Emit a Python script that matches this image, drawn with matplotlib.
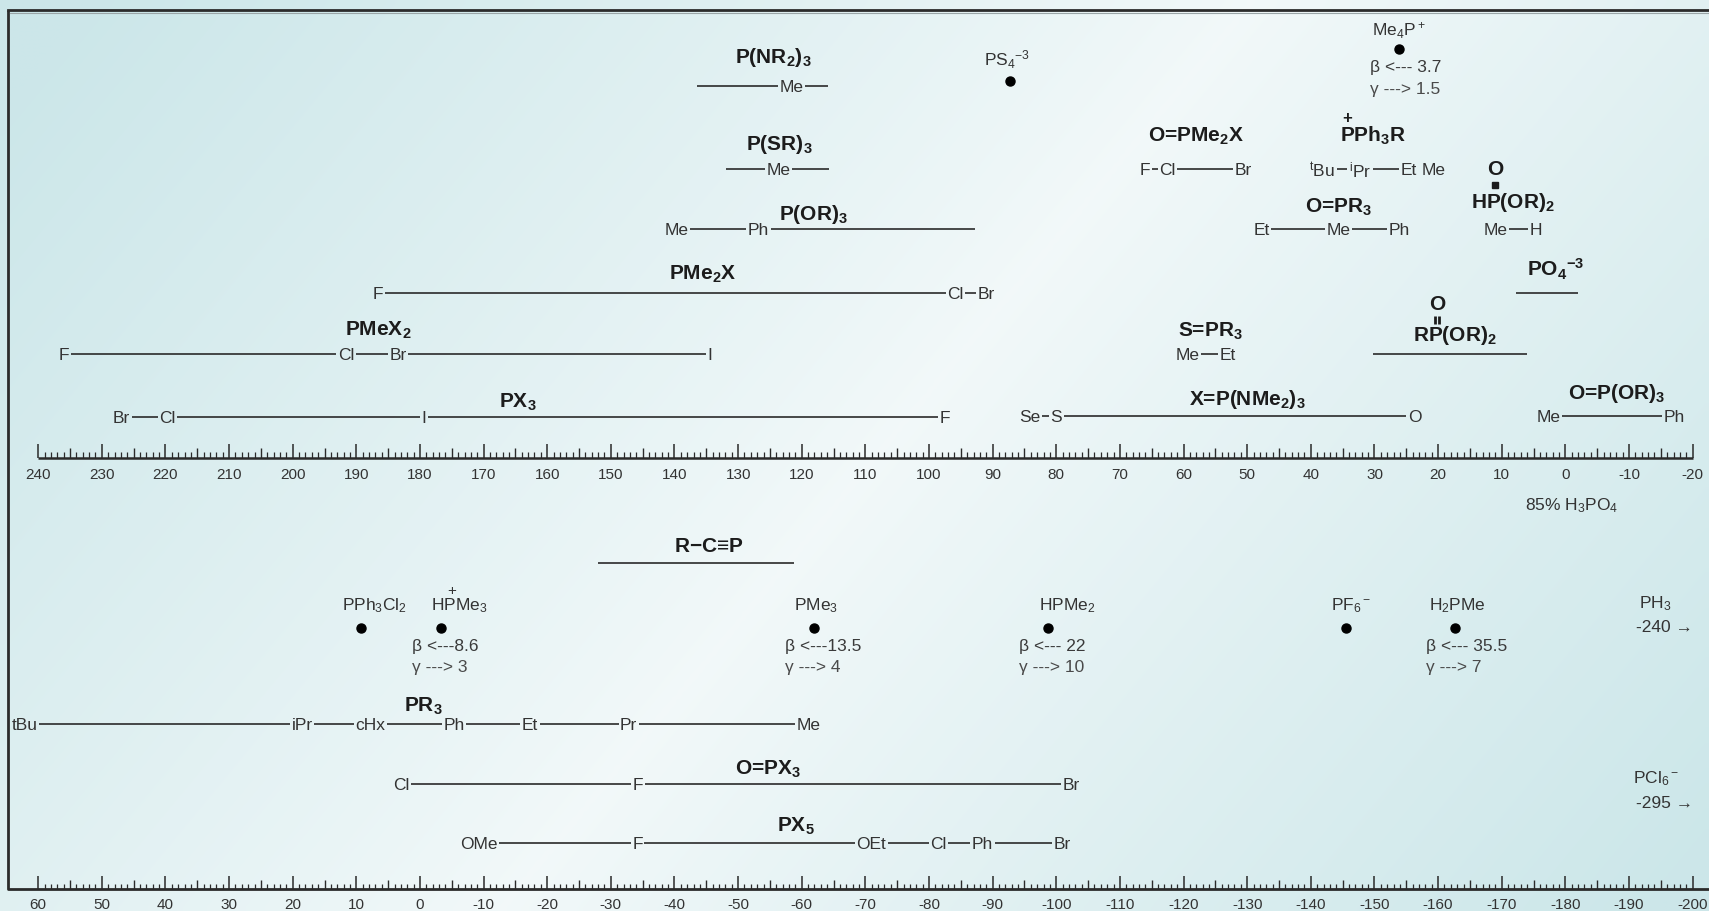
import numpy as np
import matplotlib
matplotlib.use("Agg")
import matplotlib.pyplot as plt
from matplotlib import font_manager

plt.rcParams['font.family'] = ['Liberation Sans', 'DejaVu Sans']
plt.rcParams['mathtext.fontset'] = 'custom'
plt.rcParams['mathtext.rm'] = 'Liberation Sans'
plt.rcParams['mathtext.it'] = 'Liberation Sans:italic'
plt.rcParams['mathtext.bf'] = 'Liberation Sans:bold'
plt.rcParams['mathtext.default'] = 'regular'

# ---------------- data (31P shifts, ppm) ----------------
# upper scale 240 .. -20
P_NR2_3 = [("", 136.5), ("Me", 121.6), ("", 115.9)]
P_SR_3 = [("", 131.9), ("Me", 123.6), ("", 115.7)]
P_OR_3 = [("Me", 139.7), ("Ph", 126.8), ("", 92.8)]
PMe2X = [("F", 186.6), ("Cl", 95.8), ("Br", 91.0)]
PMeX2 = [("F", 235.9), ("Cl", 191.6), ("Br", 183.4), ("I", 134.4)]
PX3 = [("Br", 226.9), ("Cl", 219.7), ("I", 179.4), ("F", 97.5)]
X_P_NMe2_3 = [("Se", 84.2), ("S", 80.0), ("O", 23.7)]
S_PR3 = [("Me", 59.4), ("Et", 53.0)]
O_PMe2X = [("F", 66.1), ("Cl", 62.5), ("Br", 50.7)]
PPh3R = [("$^t$Bu", 38.2), ("$^i$Pr", 32.3), ("Et", 24.6), None, ("Me", 20.7)]
O_PR3 = [("Et", 47.7), ("Me", 35.7), ("Ph", 26.1)]
HPO_OR_2 = [("Me", 11.0), ("H", 4.7)]
PO4 = [("", 7.7), ("", -1.95)]
RPO_OR_2 = [("", 30.3), ("", 6.0)]
O_P_OR_3 = [("Me", 2.6), ("Ph", -17.1)]

top_points = ["Me$_4$P$^+$", "PS$_4$$^{-3}$"]
top_point_shift = [26.1, 87.2]
top_beta = {"Me$_4$P$^+$": (" 3.7", " 1.5")}

# lower scale 60 .. -200
RCP = [("", -28.0), ("", -58.8)]
PR3 = [("tBu", 62.1), ("iPr", 18.5), ("cHx", 7.8), ("Ph", -5.4),
       ("Et", -17.3), ("Pr", -32.8), ("Me", -61.0)]
O_PX3 = [("Cl", 2.9), ("F", -34.3), ("Br", -102.3)]
PX5 = [("OMe", -9.2), ("F", -34.2), ("OEt", -70.95), ("Cl", -81.5),
       ("Ph", -88.4), ("Br", -100.9)]

low_points = ["PPh$_3$Cl$_2$", "HPMe$_3$", "PMe$_3$", "HPMe$_2$", "PF$_6$$^-$", "H$_2$PMe"]
low_point_shift = [9.2, -3.3, -61.9, -98.75, -145.5, -162.7]
low_beta = {"HPMe$_3$": ("8.6", " 3"), "PMe$_3$": ("13.5", " 4"),
            "HPMe$_2$": (" 22", " 10"), "H$_2$PMe": (" 35.5", " 7")}

offscale = [("PH$_3$", -240), ("PCl$_6$$^-$", -295)]

# ---------------- layout ----------------
W, H = 1709, 912
SW, SH = 1568, 837          # working units (pixel grid of the layout)
X240, XM20 = 35.0, 1553.0
ppu = (XM20 - X240) / 260.0
top_lim = (240 + X240 / ppu, -20 - (SW - XM20) / ppu)
low_lim = (top_lim[0] - 180, top_lim[1] - 180)

TXT = '#333333'
TITLE = '#1c1c1c'
LINE = '#2a2a2a'

# narrow face for the compound headings when it is there
have = {f.name for f in font_manager.fontManager.ttflist}
if 'Liberation Sans Narrow' in have:
    tfam, tsize = ['Liberation Sans Narrow', 'DejaVu Sans'], 17.5
else:
    tfam, tsize = ['Liberation Sans', 'DejaVu Sans'], 15
tfont = dict(fontsize=tsize, fontweight='bold', family=tfam, color=TITLE, ha='center', va='center')
lfont = dict(fontsize=12.5, color=TXT, ha='center', va='center')

fig = plt.figure(figsize=(W / 100, H / 100), dpi=100)

# background gradient
ax_bg = fig.add_axes([0, 0, 1, 1])
gx, gy = np.meshgrid(np.linspace(0, SW, 240), np.linspace(0, SH, 130))
d = np.abs(((gx - 460) * 837 + (gy - 837) * 690) / 1085.0)
t = np.clip(d / 820.0, 0, 1) ** 0.9
light = np.array([0.95, 0.975, 0.978])
dark = np.array([0.80, 0.905, 0.915])
img = light[None, None, :] * (1 - t[..., None]) + dark[None, None, :] * t[..., None]
ax_bg.imshow(img, extent=(0, SW, SH, 0), aspect='auto', interpolation='bilinear')
ax_bg.set_xlim(0, SW)
ax_bg.set_ylim(SH, 0)
ax_bg.axis('off')

# frame (bottom edge doubles as the lower scale baseline)
ax_bg.plot([7, 7, SW + 5], [10, 817, 817], color='#2b2b2b', lw=2, solid_capstyle='butt')
ax_bg.plot([7, SW + 5], [10, 10], color='#2b2b2b', lw=2)
ax_bg.plot([9.5, SW + 5], [12.5, 12.5], color='#9aa5a7', lw=0.8)

ax_top = fig.add_axes([0, 0, 1, 1], frameon=False)
ax_low = fig.add_axes([0, 0, 1, 1], frameon=False)
for a, lim in ((ax_top, top_lim), (ax_low, low_lim)):
    a.set_xlim(*lim)
    a.set_ylim(SH, 0)
    a.set_xticks([])
    a.set_yticks([])
    a.patch.set_alpha(0)


def scale(ax, hi, lo, y0, ylab, baseline=True):
    v = np.arange(lo, hi + 1)
    maj = v[v % 10 == 0]
    mid = v[(v % 5 == 0) & (v % 10 != 0)]
    mnr = v[v % 5 != 0]
    ax.vlines(maj, y0, y0 - 12.5, color=LINE, lw=1.1)
    ax.vlines(mid, y0, y0 - 8.5, color=LINE, lw=1.0)
    ax.vlines(mnr, y0, y0 - 5, color=LINE, lw=0.9)
    if baseline:
        ax.plot([hi, lo], [y0, y0], color=LINE, lw=1.8, solid_capstyle='butt')
    for m in maj:
        ax.text(m, ylab, str(int(m)), fontsize=11, color=TXT, ha='center', va='center')


scale(ax_top, 240, -20, 421, 436)
scale(ax_low, 60, -200, 817, 831, baseline=False)

ax_top.text(-1.0, 464, "85% H$_3$PO$_4$", fontsize=12.5, color=TXT, ha='center', va='center')

pending = []


def row(ax, nodes, y, title=None, tx=None, ty=None):
    items = []
    for n in nodes:
        if n is None:
            items.append(None)
            continue
        lab, dv = n
        tt = ax.text(dv, y + 0.5, lab, **lfont) if lab else None
        items.append((dv, tt))
    pending.append((ax, y, items))
    if title:
        ax.text(tx, ty, title, **tfont)


# upper rows
row(ax_top, P_NR2_3, 80, "P(NR$_2$)$_3$", 124.5, 53)
row(ax_top, P_SR_3, 156, "P(SR)$_3$", 123.5, 133)
row(ax_top, P_OR_3, 211, "P(OR)$_3$", 118.1, 197)
row(ax_top, PMe2X, 270, "PMe$_2$X", 135.5, 252)
row(ax_top, PMeX2, 326, "PMeX$_2$", 186.6, 303)
row(ax_top, PX3, 384, "PX$_3$", 164.6, 369)
row(ax_top, X_P_NMe2_3, 383, "X=P(NMe$_2$)$_3$", 50.0, 367)
row(ax_top, S_PR3, 326, "S=PR$_3$", 55.7, 304)
row(ax_top, O_PMe2X, 156, "O=PMe$_2$X", 58.0, 125)
row(ax_top, PPh3R, 156, "PPh$_3$R", 30.2, 125)
row(ax_top, O_PR3, 211, "O=PR$_3$", 35.6, 190)
row(ax_top, HPO_OR_2, 211, "HP(OR)$_2$", 8.2, 186)
row(ax_top, PO4, 270, "PO$_4$$^{-3}$", 1.6, 247)
row(ax_top, RPO_OR_2, 326, "RP(OR)$_2$", 17.4, 308)
row(ax_top, O_P_OR_3, 383, "O=P(OR)$_3$", -8.1, 361)

# decorations on titles
ax_top.text(34.3, 109, "+", fontsize=12, fontweight='bold', color=TITLE, ha='center', va='center')
ax_top.text(11.0, 156, "O", color=TITLE, fontsize=tsize, fontweight='bold', family=tfam,
            ha='center', va='center')
ax_top.plot(11.0, 170.5, 's', color=TITLE, ms=4.5)
ax_top.text(20.2, 279, "O", color=TITLE, fontsize=tsize, fontweight='bold', family=tfam,
            ha='center', va='center')
ax_top.plot([20.55, 19.85], [295, 295], '|', color=TITLE, ms=6, mew=2)

# lower rows
row(ax_low, RCP, 518, "R$-$C≡P", -45.4, 502)
row(ax_low, PR3, 665, "PR$_3$", -0.6, 648)
row(ax_low, O_PX3, 720, "O=PX$_3$", -54.7, 706)
row(ax_low, PX5, 775, "PX$_5$", -59.0, 758)

# single points
BX = 4.6  # beta/gamma text start, ppm left of dot


def points(ax, names, shifts, beta, ydot, ylab, yb, yg, labdx):
    ax.plot(shifts, [ydot] * len(shifts), 'o', color='black', ms=6.5, zorder=5)
    for nm, s in zip(names, shifts):
        ax.text(s + labdx.get(nm, 0), ylab, nm, **lfont)
        if nm in beta:
            b, g = beta[nm]
            ax.text(s + BX, yb, "β <---" + b, fontsize=12.5, color='#3a3a3a', ha='left', va='center')
            ax.text(s + BX, yg, "γ --->" + g, fontsize=12.5, color='#4a4a4a', ha='left', va='center')


points(ax_top, [top_points[0]], [top_point_shift[0]], top_beta, 46, 28, 62, 82, {})
points(ax_top, [top_points[1]], [top_point_shift[1]], {}, 75, 55, 0, 0, {top_points[1]: 0.5})
points(ax_low, low_points, low_point_shift, low_beta, 577, 556, 593, 613,
       {"PPh$_3$Cl$_2$": -2.0, "HPMe$_3$": -2.9, "PMe$_3$": -0.3, "HPMe$_2$": -3.0,
        "PF$_6$$^-$": -0.9, "H$_2$PMe": -0.4})
ax_low.text(-5.0, 542, "+", fontsize=11, color=TXT, ha='center', va='center')

# off-scale values
for (nm, v), yy in zip(offscale, (554, 715)):
    ax_bg.text(1519, yy, nm, fontsize=12.5, color=TXT, ha='center', va='center')
    ax_bg.text(1553, yy + 22, f"{v} →", fontsize=12.5, color=TXT, ha='right', va='center')

# connect labels with lines, leaving gaps for the text
fig.canvas.draw()
rend = fig.canvas.get_renderer()
PAD = 1.5
for ax, y, items in pending:
    inv = ax.transData.inverted()
    prev = None
    for it in items:
        if it is None:
            prev = None
            continue
        dv, tt = it
        xd = ax.transData.transform((dv, y))[0]
        if tt is not None:
            bb = tt.get_window_extent(rend)
            left, right = bb.x0 - PAD, bb.x1 + PAD
        else:
            left = right = xd
        if prev is not None and left - prev > 1:
            d0 = inv.transform((prev, 0))[0]
            d1 = inv.transform((left, 0))[0]
            ax.plot([d0, d1], [y, y], color=LINE, lw=1.2, solid_capstyle='butt')
        prev = right

fig.savefig("out.png", dpi=100)
